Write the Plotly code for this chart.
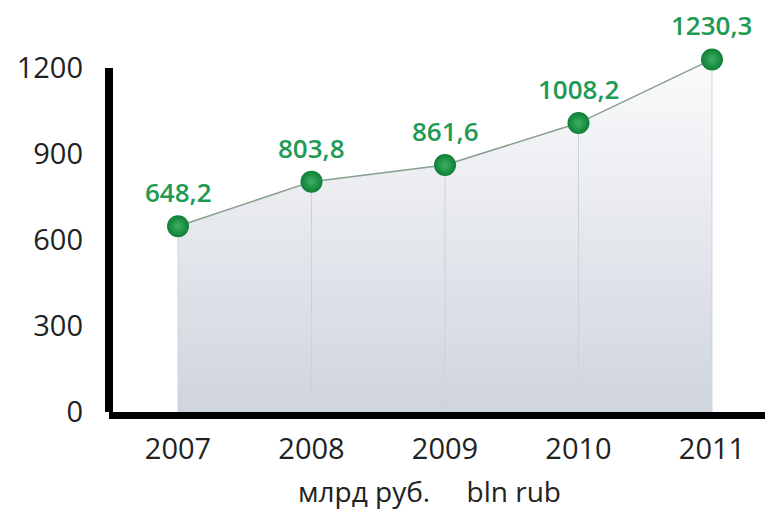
import plotly.graph_objects as go

years = ["2007", "2008", "2009", "2010", "2011"]
values = [648.2, 803.8, 861.6, 1008.2, 1230.3]
labels = ["648,2", "803,8", "861,6", "1008,2", "1230,3"]
ytick_vals = [0, 300, 600, 900, 1200]
x_title = "млрд руб.     bln rub"

FONT = "Open Sans"

fig = go.Figure()

fig.add_trace(go.Scatter(
    x=years, y=values,
    mode="lines+markers",
    line=dict(color="#86a08c", width=1.5),
    fill="tozeroy",
    fillgradient=dict(type="vertical",
                      colorscale=[[0, "#cfd4dd"], [1, "#fbfbfc"]]),
    marker=dict(size=22, color="#0d7f36",
                gradient=dict(type="radial", color="#3fb062"),
                line=dict(width=0)),
    error_y=dict(type="data", symmetric=False, array=[0] * len(values),
                 arrayminus=values, thickness=1, width=0, color="#cdd1d8"),
    hoverinfo="skip",
    showlegend=False,
))

for i, (y, t) in enumerate(zip(values, labels)):
    fig.add_annotation(x=i, y=y, xref="x", yref="y", text=t, showarrow=False,
                       yshift=34, borderpad=0,
                       font=dict(family=FONT, size=26, weight=600, color="#1e9a55"))

# axis title placed as annotation (reference title sits slightly left of centre)
fig.add_annotation(xref="paper", yref="paper", x=0.482, y=0, yshift=-79,
                   yanchor="middle", xanchor="center", showarrow=False,
                   borderpad=0,
                   text=x_title, font=dict(family=FONT, size=28, color="#222222"))

fig.add_shape(type="line", xref="paper", yref="y",
              x0=0, x1=0, y0=0, y1=max(ytick_vals),
              line=dict(color="black", width=8))

fig.update_layout(
    width=765, height=504,
    margin=dict(l=101, r=0, t=30, b=100, autoexpand=False),
    paper_bgcolor="white", plot_bgcolor="white",
    font=dict(family=FONT, color="#222222"),
    xaxis=dict(
        type="category",
        range=[-0.517, 4.457],
        automargin=False,
        showline=True, linecolor="black", linewidth=7,
        showgrid=False, zeroline=False, ticks="",
        tickfont=dict(size=29, color="#222222"),
        ticklabelstandoff=5,
    ),
    yaxis=dict(
        range=[0, 1305],
        tickvals=ytick_vals,
        automargin=False,
        showgrid=False, zeroline=False, showline=False, ticks="",
        tickfont=dict(size=29, color="#222222"),
        ticklabelstandoff=25,
    ),
)

fig.write_html("out.html")
